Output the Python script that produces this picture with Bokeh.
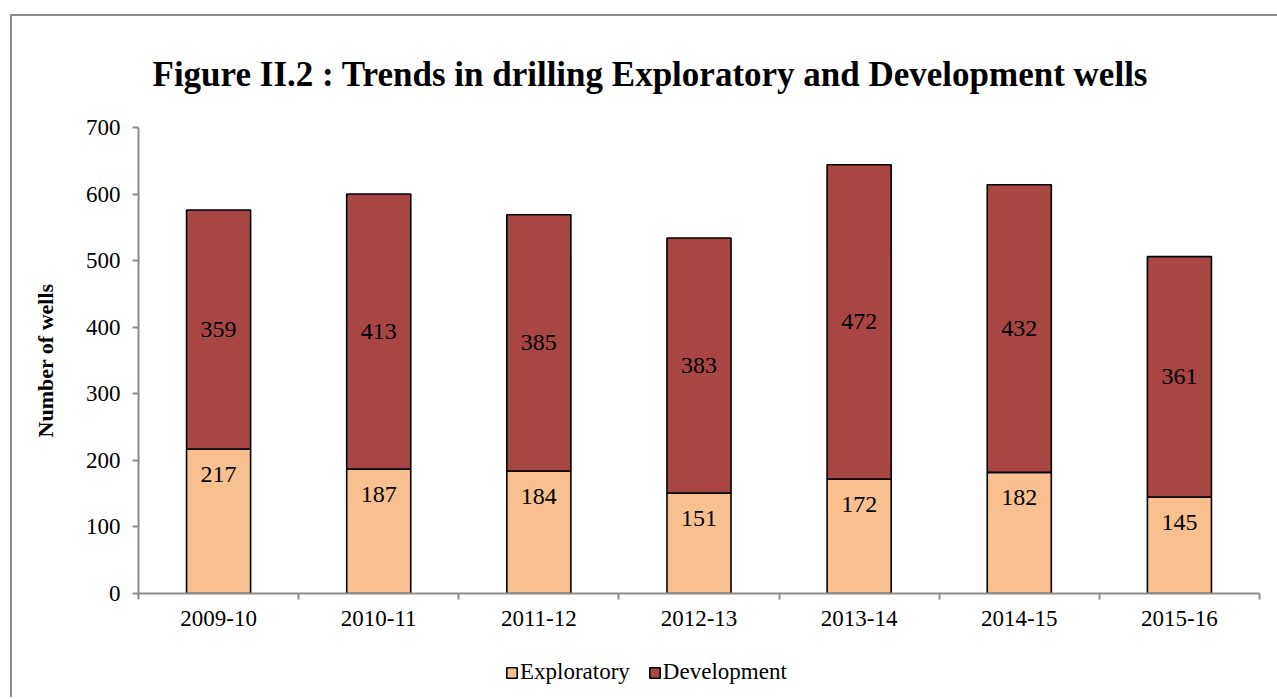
from bokeh.plotting import figure
from bokeh.layouts import column
from bokeh.models import (ColumnDataSource, Range1d, FixedTicker, Legend, LegendItem,
                          LinearAxis)
from bokeh.core.properties import value
from bokeh.embed import file_html
from bokeh.resources import INLINE

# ---- data ----
years = ["2009-10", "2010-11", "2011-12", "2012-13", "2013-14", "2014-15", "2015-16"]
exploratory = [217, 187, 184, 151, 172, 182, 145]
development = [359, 413, 385, 383, 472, 432, 361]
y_ticks = [0, 100, 200, 300, 400, 500, 600, 700]
series_names = ["Exploratory", "Development"]

FONT = "Liberation Serif"
C_EXP = "#f9c08f"
C_DEV = "#a84644"
AXIS_C = "#8c8c8c"

xpos = [i + 0.5 for i in range(len(years))]
src = ColumnDataSource(dict(
    x=xpos,
    exp=exploratory,
    dev=development,
    total=[e + d for e, d in zip(exploratory, development)],
    exp_lbl=[str(v) for v in exploratory],
    dev_lbl=[str(v) for v in development],
    dev_mid=[e + d / 2 for e, d in zip(exploratory, development)],
))

W = 1263
p = figure(width=W, height=627, output_backend="svg", toolbar_location=None,
           x_range=Range1d(0, len(years)), y_range=Range1d(0, 700),
           frame_width=1121, frame_height=466,
           min_border_left=126, min_border_top=111, min_border_right=18,
           min_border_bottom=50, x_axis_type=None, y_axis_type=None)
p.background_fill_color = "white"
p.border_fill_color = "white"
p.outline_line_color = None
p.xgrid.visible = False
p.ygrid.visible = False

# title
p.title.text = "Figure II.2 : Trends in drilling  Exploratory and Development wells"
p.title.align = "left"
p.title.offset = 14
p.title.text_font = FONT
p.title.text_font_size = "35px"
p.title.text_font_style = "bold"
p.title.text_color = "black"
p.title.standoff = 68

# axes
xaxis = LinearAxis(ticker=FixedTicker(ticks=xpos, minor_ticks=list(range(len(years) + 1))))
xaxis.major_label_overrides = {x: y for x, y in zip(xpos, years)}
xaxis.major_tick_out = 0
xaxis.major_tick_in = 0
xaxis.minor_tick_out = 6
xaxis.minor_tick_in = 0
xaxis.minor_tick_line_color = AXIS_C
xaxis.minor_tick_line_width = 2
xaxis.axis_line_color = AXIS_C
xaxis.axis_line_width = 2
xaxis.major_label_text_font = FONT
xaxis.major_label_text_font_size = "23px"
xaxis.major_label_text_color = "black"
xaxis.major_label_standoff = 11
p.add_layout(xaxis, "below")

yaxis = LinearAxis(ticker=FixedTicker(ticks=y_ticks, minor_ticks=[]))
yaxis.major_tick_out = 6
yaxis.major_tick_in = 0
yaxis.major_tick_line_color = AXIS_C
yaxis.major_tick_line_width = 2
yaxis.axis_line_color = AXIS_C
yaxis.axis_line_width = 2
yaxis.major_label_text_font = FONT
yaxis.major_label_text_font_size = "23px"
yaxis.major_label_text_color = "black"
yaxis.major_label_standoff = 12
yaxis.axis_label = "Number of wells"
yaxis.axis_label_text_font = FONT
yaxis.axis_label_text_font_size = "22px"
yaxis.axis_label_text_font_style = "bold"
yaxis.axis_label_text_color = "black"
yaxis.axis_label_standoff = 25
p.add_layout(yaxis, "left")

# bars
p.vbar(x="x", bottom=0, top="exp", width=0.4, source=src,
       fill_color=C_EXP, line_color="black", line_width=1.6)
p.vbar(x="x", bottom="exp", top="total", width=0.4, source=src,
       fill_color=C_DEV, line_color="black", line_width=1.6)

# labels
p.text(x="x", y="exp", text="exp_lbl", source=src, text_align="center",
       text_baseline="top", y_offset=18, text_font=value(FONT),
       text_font_size="24px", text_color="black")
p.text(x="x", y="dev_mid", text="dev_lbl", source=src, text_align="center",
       text_baseline="middle", text_font=value(FONT),
       text_font_size="24px", text_color="black")

# legend strip (separate small figure below the chart; its bars are hidden)
lf = figure(width=W, height=54, output_backend="svg", toolbar_location=None,
            x_range=Range1d(100, 101), y_range=Range1d(1000, 1001),
            min_border_left=0, min_border_right=0, min_border_top=0, min_border_bottom=0,
            x_axis_type=None, y_axis_type=None)
lf.outline_line_color = None
lf.xgrid.visible = False
lf.ygrid.visible = False
lf.background_fill_color = "white"
lf.border_fill_color = "white"
le = lf.vbar(x="x", top="exp", width=0.4, source=src,
             fill_color=C_EXP, line_color="black", line_width=1.6)
ld = lf.vbar(x="x", bottom="exp", top="total", width=0.4, source=src,
             fill_color=C_DEV, line_color="black", line_width=1.6)
le.visible = False
ld.visible = False

legend = Legend(items=[LegendItem(label=series_names[0], renderers=[le]),
                       LegendItem(label=series_names[1], renderers=[ld])],
                orientation="horizontal", location=(367, 12))
legend.label_text_font = FONT
legend.label_text_font_size = "23px"
legend.label_text_color = "black"
legend.glyph_width = 13
legend.glyph_height = 13
legend.label_standoff = 2
legend.spacing = 18
legend.padding = 0
legend.margin = 0
legend.border_line_color = None
legend.background_fill_alpha = 0
legend.inactive_fill_alpha = 0
lf.add_layout(legend)

layout = column(p, lf, spacing=0,
                styles={"border-left": f"2px solid {AXIS_C}", "border-top": f"2px solid {AXIS_C}",
                        "margin-left": "10px", "margin-top": "14px", "background": "white"})

html = file_html(layout, INLINE)
html = html.replace("<body>", '<body style="background:#f8f7f2;">', 1)
open("out.html", "w").write(html)
